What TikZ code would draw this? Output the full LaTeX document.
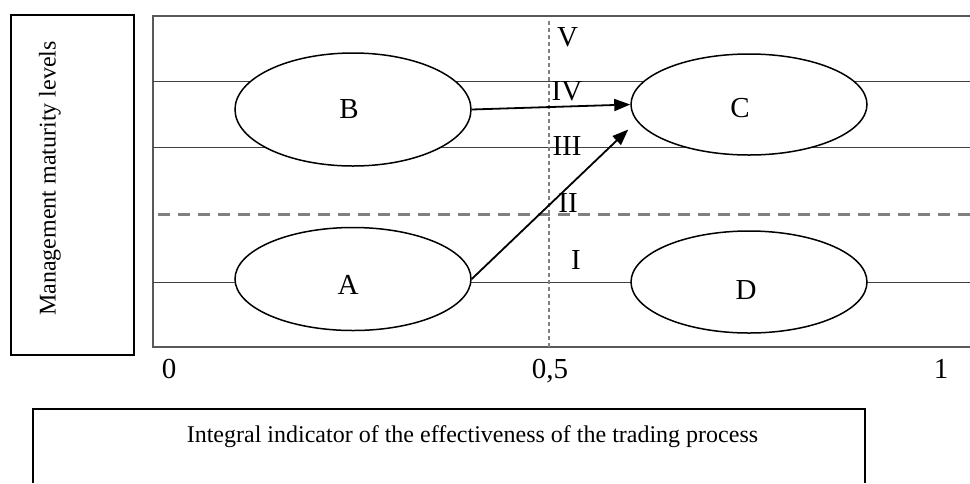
\documentclass[tikz,border=0pt]{standalone}
\usepackage{fontspec}
\setmainfont{Liberation Serif}
\usetikzlibrary{shapes.geometric,arrows.meta}
% text offset inside a node: #1 = twice the x shift, #2 = y shift (up), #3 = text
\newcommand\offtext[3]{\raisebox{#2}[\height][\depth]{\makebox[0pt]{\hspace*{#1}#3}}}
\begin{document}
\begin{tikzpicture}[x=1pt,y=-1pt,
  frame/.style={draw=black!65, line width=1.3pt},
  level/.style={draw=black!75, line width=1pt},
  blob/.style={ellipse, draw=black, line width=1.5pt, fill=white, inner sep=0pt,
    minimum width=236pt, font=\fontsize{29}{29}\selectfont},
  roman/.style={inner sep=0pt, font=\fontsize{29}{29}\selectfont},
  tick/.style={inner sep=0pt, anchor=base, font=\fontsize{29}{29}\selectfont},
  arr/.style={-{Triangle[length=16pt,width=12pt]}, line width=1.8pt, draw=black},
  caption/.style={inner sep=0pt, font=\fontsize{24}{24}\selectfont},
]
\useasboundingbox (0,0) rectangle (970,483);
\fill[white] (0,0) rectangle (970,483);

% left axis box
\draw[line width=1.5pt] (11,15) rectangle (134,355);
\node[caption, rotate=90] (ylabel) at (50,178.5) {Management maturity levels};

% main frame
\draw[frame] (970,16) -- (153,16) -- (153,347) -- (970,347);
\draw[level] (153,81) -- (970,81);
\draw[level] (153,147) -- (970,147);
\draw[level] (153,282) -- (970,282);
\draw[draw=black!50, line width=3pt, dash pattern=on 12pt off 8pt] (158,214) -- (970,214);
\draw[draw=black!50, line width=1.2pt, dash pattern=on 4pt off 3pt] (549,21) -- (549,347);

% ellipses
\node[blob, minimum height=113pt] (B) at (353,109.5) {\offtext{-8pt}{0pt}{B}};
\node[blob, minimum height=101pt] (C) at (749,104.5) {\offtext{-18pt}{-4pt}{C}};
\node[blob, minimum height=103pt] (A) at (353,279) {\offtext{-10pt}{-6pt}{A}};
\node[blob, minimum height=102pt] (D) at (749,282) {\offtext{-6pt}{-8pt}{D}};

% arrows
\draw[arr] (B.east) -- (C.west);
\draw[arr] (A.east) -- ([shift={(-2,25)}]C.west);

% level numerals
\node[roman] (r5) at (567.5,37) {V};
\node[roman] (r4) at (567,91) {IV};
\node[roman] (r3) at (567,146) {III};
\node[roman] (r2) at (568,203) {II};
\node[roman] (r1) at (576,259.5) {I};

% axis ticks
\node[tick] (t0) at (169,378) {0};
\node[tick] (t05) at (550,378) {0,5};
\node[tick] (t1) at (941,378) {1};

% bottom box
\draw[line width=2pt] (33,483) -- (33,409) -- (865,409) -- (865,483);
\node[caption, anchor=base] (xlabel) at (472.5,442) {Integral indicator of the effectiveness of the trading process};
\end{tikzpicture}
\end{document}
